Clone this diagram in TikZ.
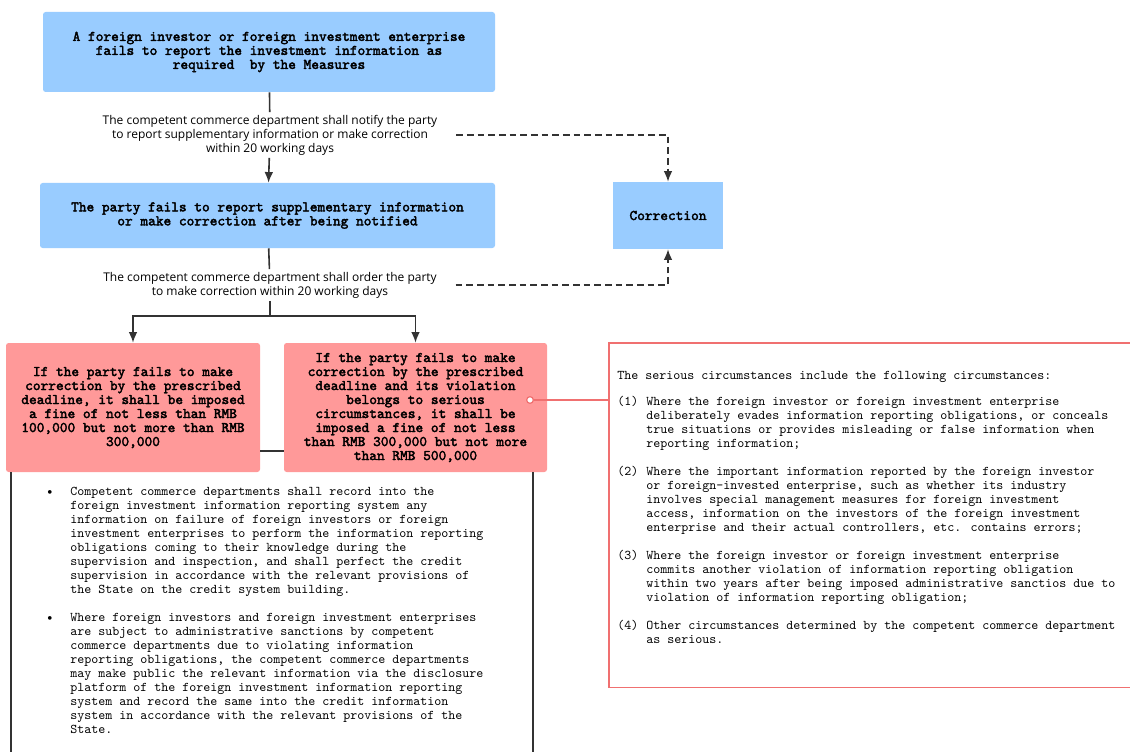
\documentclass[tikz,border=0pt]{standalone}
\usepackage{fontspec}
\setsansfont{Open Sans}
\newfontfamily\listfont{Latin Modern Mono}
\newfontfamily\boxfont[AutoFakeBold=2.5]{Latin Modern Mono}
\usetikzlibrary{arrows.meta}
\definecolor{stepblue}{HTML}{99CCFF}
\definecolor{finepink}{HTML}{FF9999}
\definecolor{noteline}{HTML}{F07070}
\definecolor{wire}{HTML}{333333}
\begin{document}
\begin{tikzpicture}[x=0.75pt, y=-0.75pt,
    stepbox/.style={fill=stepblue, rounded corners=2pt, align=center,
        font=\boxfont\bfseries\fontsize{11}{10.5}\selectfont},
    finebox/.style={fill=finepink, rounded corners=2pt, align=center,
        font=\boxfont\bfseries\fontsize{11}{10.5}\selectfont},
    steplabel/.style={align=center, inner sep=2pt,
        font=\sffamily\fontsize{9}{10.5}\selectfont},
    plaintext/.style={inner sep=0pt, anchor=base west,
        font=\listfont\fontsize{10}{10.5}\selectfont},
    wireline/.style={wire, line width=1.2pt},
    arrow/.style={wireline, -{Latex[length=8pt, width=6.5pt]}},
    dashline/.style={wireline, dash pattern=on 5pt off 3pt, -{Latex[length=8pt, width=6.5pt]}}]
    % the frame
    \useasboundingbox (0,0) rectangle (1130,752);
    \path[clip] (0,0) rectangle (1130,752);
    \fill[white] (0,0) rectangle (1130,752);

    % the steps
    \node[stepbox, minimum width=339pt, minimum height=60pt] (report) at (269,52)
        {A foreign investor or foreign investment enterprise\\
         fails to report the investment information as\\
         required\ \ by the Measures};
    \node[steplabel] (notify) at (270,135)
        {The competent commerce department shall notify the party\\
         to report supplementary information or make correction\\
         within 20 working days};
    \node[stepbox, minimum width=341.25pt, minimum height=48.75pt] (fails) at (267.5,215.5)
        {The party fails to report supplementary information\\
         or make correction after being notified};
    \node[stepbox, rounded corners=0pt, minimum width=82.5pt, minimum height=50.25pt] (correction) at (668,215.5)
        {Correction};
    \node[steplabel] (order) at (270,285)
        {The competent commerce department shall order the party\\
         to make correction within 20 working days};
    \coordinate (split) at (270,316);

    % the fines
    \node[finebox, minimum width=190.5pt, minimum height=96.75pt] (fine) at (133,407.5)
        {If the party fails to make\\
         correction by the prescribed\\
         deadline, it shall be imposed\\
         a fine of not less than RMB\\
         100,000 but not more than RMB\\
         300,000};
    \node[finebox, minimum width=197.25pt, minimum height=96.75pt] (seriousfine) at (415.5,407.5)
        {If the party fails to make\\
         correction by the prescribed\\
         deadline and its violation\\
         belongs to serious\\
         circumstances, it shall be\\
         imposed a fine of not less\\
         than RMB 300,000 but not more\\
         than RMB 500,000};

    % connectors
    \draw[wireline] (report) -- (notify);
    \draw[arrow] (notify) -- (fails);
    \draw[wireline] (fails) -- (order);
    \draw[wireline] (order) -- (split);
    \draw[arrow] (split) -| (fine);
    \draw[arrow] (split) -| (seriousfine);
    \draw[dashline] ([xshift=12pt]notify.east) -| (correction.north);
    \draw[dashline] ([xshift=12pt]order.east) -| (correction.south);
    \draw[wireline] (fine.east |- 0,451) -- (seriousfine.west |- 0,451);

    % the record box
    \draw[wire, line width=0.9pt] (11,472) -- (11,770) -- (533,770) -- (533,472);
    \node[plaintext] (record) at (46,495)
        {\begin{tabular}[t]{@{}p{18pt}@{}l@{}}
         \textbullet & Competent commerce departments shall record into the\\
         & foreign investment information reporting system any\\
         & information on failure of foreign investors or foreign\\
         & investment enterprises to perform the information reporting\\
         & obligations coming to their knowledge during the\\
         & supervision and inspection, and shall perfect the credit\\
         & supervision in accordance with the relevant provisions of\\
         & the State on the credit system building.\\[10.5pt]
         \textbullet & Where foreign investors and foreign investment enterprises\\
         & are subject to administrative sanctions by competent\\
         & commerce departments due to violating information\\
         & reporting obligations, the competent commerce departments\\
         & may make public the relevant information via the disclosure\\
         & platform of the foreign investment information reporting\\
         & system and record the same into the credit information\\
         & system in accordance with the relevant provisions of the\\
         & State.
         \end{tabular}};

    % the serious circumstances
    \node[anchor=north west, minimum width=400pt, minimum height=258pt] (note) at (609,343) {};
    \draw[noteline, line width=1.1pt] (note.north west) rectangle (note.south east);
    \node[plaintext] (notetext) at (617,379)
        {\begin{tabular}[t]{@{}p{21.75pt}@{}l@{}}
         \multicolumn{2}{@{}l@{}}{The serious circumstances include the following circumstances:}\\[9.5pt]
         (1) & Where the foreign investor or foreign investment enterprise\\
         & deliberately evades information reporting obligations, or conceals\\
         & true situations or provides misleading or false information when\\
         & reporting information;\\[10.5pt]
         (2) & Where the important information reported by the foreign investor\\
         & or foreign-invested enterprise, such as whether its industry\\
         & involves special management measures for foreign investment\\
         & access, information on the investors of the foreign investment\\
         & enterprise and their actual controllers, etc. contains errors;\\[10.5pt]
         (3) & Where the foreign investor or foreign investment enterprise\\
         & commits another violation of information reporting obligation\\
         & within two years after being imposed administrative sanctios due to\\
         & violation of information reporting obligation;\\[10.5pt]
         (4) & Other circumstances determined by the competent commerce department\\
         & as serious.
         \end{tabular}};
    \node[circle, draw=noteline, fill=white, line width=0.9pt, inner sep=0pt, minimum size=5pt] (link) at (530,400) {};
    \draw[noteline, line width=0.9pt] (link) -- (link -| note.west);
\end{tikzpicture}
\end{document}
